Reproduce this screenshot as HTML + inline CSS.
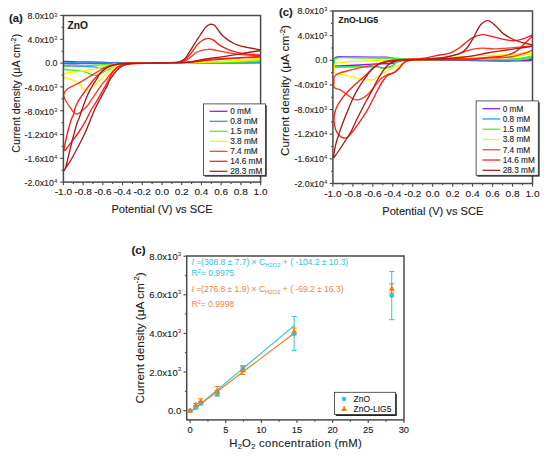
<!DOCTYPE html>
<html><head><meta charset="utf-8"><style>
html,body{margin:0;padding:0;background:#fff;width:550px;height:459px;overflow:hidden;position:relative}
svg text{font-family:'Liberation Sans',sans-serif}
</style></head><body>
<svg width="550" height="459" viewBox="0 0 550 459" style="position:absolute;left:0;top:0;font-family:'Liberation Sans',sans-serif">
<rect width="550" height="459" fill="#ffffff"/>
<clipPath id="ca"><rect x="63.4" y="15.5" width="197.2" height="166.6"/></clipPath>
<g clip-path="url(#ca)">
<path d="M260.6 62.9 C253.83 62.92 238.43 63 220 63 C201.57 63 167.5 62.95 150 62.9 C132.5 62.85 123.33 62.82 115 62.7 C106.67 62.58 105.83 62.35 100 62.2 C94.17 62.05 85.92 61.93 80 61.8 C74.08 61.67 67.2 61.3 64.5 61.4 C61.8 61.5 63.8 62.03 63.8 62.4 C63.8 62.77 61.8 63.38 64.5 63.6 C67.2 63.82 72.42 63.75 80 63.7 C87.58 63.65 98.33 63.42 110 63.3 C121.67 63.18 131.67 63.05 150 63 C168.33 62.95 201.57 63.05 220 63 C238.43 62.95 253.83 62.75 260.6 62.7" fill="none" stroke="#8a18f0" stroke-width="1.35" stroke-linejoin="round" stroke-linecap="round"/>
<path d="M260.6 62 C255.5 62.1 243.43 62.43 230 62.6 C216.57 62.77 198.33 62.95 180 63 C161.67 63.05 135 62.92 120 62.9 C105 62.88 99.25 62.92 90 62.9 C80.75 62.88 68.87 62.58 64.5 62.8 C60.13 63.02 63.8 63.75 63.8 64.2 C63.8 64.65 61.8 65.13 64.5 65.5 C67.2 65.87 75.15 66.18 80 66.4 C84.85 66.62 90.12 66.53 93.6 66.8 C97.08 67.07 98.92 67.92 100.9 68 C102.88 68.08 103.68 67.8 105.5 67.3 C107.32 66.8 109.68 65.62 111.8 65 C113.92 64.38 115.17 63.92 118.2 63.6 C121.23 63.28 119.7 63.18 130 63.1 C140.3 63.02 163.33 63.13 180 63.1 C196.67 63.07 216.57 63.02 230 62.9 C243.43 62.78 255.5 62.48 260.6 62.4" fill="none" stroke="#1a9cf2" stroke-width="1.35" stroke-linejoin="round" stroke-linecap="round"/>
<path d="M260.6 60.4 C255.5 60.67 243.43 61.57 230 62 C216.57 62.43 196.67 62.8 180 63 C163.33 63.2 141.67 62.97 130 63.2 C118.33 63.43 116.67 64.03 110 64.4 C103.33 64.77 97.58 65.1 90 65.4 C82.42 65.7 68.87 65.8 64.5 66.2 C60.13 66.6 63.8 67.25 63.8 67.8 C63.8 68.35 62.38 69.07 64.5 69.5 C66.62 69.93 73 69.97 76.5 70.4 C80 70.83 82.95 71.37 85.5 72.1 C88.05 72.83 89.98 74.27 91.8 74.8 C93.62 75.33 94.88 75.5 96.4 75.3 C97.92 75.1 99.08 74.48 100.9 73.6 C102.72 72.72 105.03 71.2 107.3 70 C109.57 68.8 112.08 67.38 114.5 66.4 C116.92 65.42 118.38 64.63 121.8 64.1 C125.22 63.57 125.3 63.37 135 63.2 C144.7 63.03 164.17 63.22 180 63.1 C195.83 62.98 216.57 62.78 230 62.5 C243.43 62.22 255.5 61.58 260.6 61.4" fill="none" stroke="#4cf01c" stroke-width="1.35" stroke-linejoin="round" stroke-linecap="round"/>
<path d="M260.6 58.2 C255.5 58.67 243.43 60.22 230 61 C216.57 61.78 195.83 62.53 180 62.9 C164.17 63.27 145.5 63.02 135 63.2 C124.5 63.38 122.5 63.4 117 64 C111.5 64.6 105.57 66 102 66.8 C98.43 67.6 97.72 68.27 95.6 68.8 C93.48 69.33 91.87 69.57 89.3 70 C86.73 70.43 82.93 71.03 80.2 71.4 C77.47 71.77 75.52 71.83 72.9 72.2 C70.28 72.57 66.02 73.03 64.5 73.6 C62.98 74.17 63.8 74.93 63.8 75.6 C63.8 76.27 62.98 76.9 64.5 77.6 C66.02 78.3 70.58 78.88 72.9 79.8 C75.22 80.72 76.88 81.82 78.4 83.1 C79.92 84.38 80.9 86.43 82 87.5 C83.1 88.57 83.82 89.18 85 89.5 C86.18 89.82 87.52 90.07 89.1 89.4 C90.68 88.73 92.53 87.22 94.5 85.5 C96.47 83.78 98.77 81.23 100.9 79.1 C103.03 76.97 105.33 74.52 107.3 72.7 C109.27 70.88 110.88 69.4 112.7 68.2 C114.52 67 116.38 66.18 118.2 65.5 C120.02 64.82 119.97 64.48 123.6 64.1 C127.23 63.72 130.6 63.38 140 63.2 C149.4 63.02 165 63.32 180 63 C195 62.68 216.57 61.9 230 61.3 C243.43 60.7 255.5 59.72 260.6 59.4" fill="none" stroke="#fff000" stroke-width="1.35" stroke-linejoin="round" stroke-linecap="round"/>
<path d="M260.6 55.6 C258.47 55.5 252.57 55.38 247.8 55 C243.03 54.62 236.43 53.9 232 53.3 C227.57 52.7 225.17 52.07 221.2 51.4 C217.23 50.73 212.22 49.2 208.2 49.3 C204.18 49.4 200.3 50.47 197.1 52 C193.9 53.53 191.85 56.78 189 58.5 C186.15 60.22 184.83 61.55 180 62.3 C175.17 63.05 168.33 62.87 160 63 C151.67 63.13 136.82 63 130 63.1 C123.18 63.2 122.13 63.28 119.1 63.6 C116.07 63.92 114.07 64.38 111.8 65 C109.53 65.62 107.77 66.23 105.5 67.3 C103.23 68.37 100.93 69.82 98.2 71.4 C95.47 72.98 92.13 74.98 89.1 76.8 C86.07 78.62 82.85 80.72 80 82.3 C77.15 83.88 74.25 85.05 72 86.3 C69.75 87.55 67.87 88.45 66.5 89.8 C65.13 91.15 64.13 93.03 63.8 94.4 C63.47 95.77 64.05 96.73 64.5 98 C64.95 99.27 65.43 100.25 66.5 102 C67.57 103.75 69.62 106.68 70.9 108.5 C72.18 110.32 73.2 111.98 74.2 112.9 C75.2 113.82 75.78 114.2 76.9 114 C78.02 113.8 79.15 113.08 80.9 111.7 C82.65 110.32 85.63 107.72 87.4 105.7 C89.17 103.68 89.72 102.25 91.5 99.6 C93.28 96.95 96.25 92.52 98.1 89.8 C99.95 87.08 101.3 84.93 102.6 83.3 C103.9 81.67 104.67 81.47 105.9 80 C107.13 78.53 108.48 76.33 110 74.5 C111.52 72.67 113.17 70.53 115 69 C116.83 67.47 118.83 66.17 121 65.3 C123.17 64.43 123.17 64.17 128 63.8 C132.83 63.43 140.5 63.33 150 63.1 C159.5 62.87 175 63.03 185 62.4 C195 61.77 200.83 60.03 210 59.3 C219.17 58.57 231.57 58.35 240 58 C248.43 57.65 257.17 57.33 260.6 57.2" fill="none" stroke="#ff3c1c" stroke-width="1.35" stroke-linejoin="round" stroke-linecap="round"/>
<path d="M260.6 55 C258.47 54.85 251.5 54.48 247.8 54.1 C244.1 53.72 241.55 53.42 238.4 52.7 C235.25 51.98 232.05 51.07 228.9 49.8 C225.75 48.53 222.07 46.7 219.5 45.1 C216.93 43.5 215.38 41.32 213.5 40.2 C211.62 39.08 209.95 38.43 208.2 38.4 C206.45 38.37 204.85 38.92 203 40 C201.15 41.08 199.27 42.48 197.1 44.9 C194.93 47.32 192.52 51.73 190 54.5 C187.48 57.27 186.17 60.1 182 61.5 C177.83 62.9 172.83 62.63 165 62.9 C157.17 63.17 142.35 62.98 135 63.1 C127.65 63.22 124.47 63.28 120.9 63.6 C117.33 63.92 115.87 64.38 113.6 65 C111.33 65.62 109.27 66.17 107.3 67.3 C105.33 68.43 103.55 70.3 101.8 71.8 C100.05 73.3 98.18 74.93 96.8 76.3 C95.42 77.67 94.55 78.75 93.5 80 C92.45 81.25 91.48 82.53 90.5 83.8 C89.52 85.07 88.62 86.2 87.6 87.6 C86.58 89 85.48 90.67 84.4 92.2 C83.32 93.73 82.2 95.17 81.1 96.8 C80 98.43 78.78 100.15 77.8 102 C76.82 103.85 75.95 105.73 75.2 107.9 C74.45 110.07 73.92 113.15 73.3 115 C72.68 116.85 72.08 117.45 71.5 119 C70.92 120.55 70.35 122.47 69.8 124.3 C69.25 126.13 68.75 127.83 68.2 130 C67.65 132.17 67.03 134.97 66.5 137.3 C65.97 139.63 65.42 141.88 65 144 C64.58 146.12 63.82 149.13 64 150 C64.18 150.87 64.85 150.57 66.1 149.2 C67.35 147.83 69.48 144.5 71.5 141.8 C73.52 139.1 75.95 136.27 78.2 133 C80.45 129.73 82.85 126.03 85 122.2 C87.15 118.37 89.13 113.55 91.1 110 C93.07 106.45 95.1 103.72 96.8 100.9 C98.5 98.08 99.78 95.72 101.3 93.1 C102.82 90.48 104.7 87.38 105.9 85.2 C107.1 83.02 107.22 82.37 108.5 80 C109.78 77.63 111.83 73.27 113.6 71 C115.37 68.73 117.28 67.5 119.1 66.4 C120.92 65.3 122.52 64.9 124.5 64.4 C126.48 63.9 126.75 63.62 131 63.4 C135.25 63.18 141 63.27 150 63.1 C159 62.93 175 62.88 185 62.4 C195 61.92 201.67 60.9 210 60.2 C218.33 59.5 226.57 58.87 235 58.2 C243.43 57.53 256.33 56.53 260.6 56.2" fill="none" stroke="#ff1a1a" stroke-width="1.35" stroke-linejoin="round" stroke-linecap="round"/>
<path d="M260.6 49.9 C259.33 49.67 255.28 48.93 253 48.5 C250.72 48.07 248.73 47.67 246.9 47.3 C245.07 46.93 243.58 46.7 242 46.3 C240.42 45.9 238.9 45.45 237.4 44.9 C235.9 44.35 234.4 43.72 233 43 C231.6 42.28 230.33 41.5 229 40.6 C227.67 39.7 226.17 38.53 225 37.6 C223.83 36.67 223 36.07 222 35 C221 33.93 219.95 32.47 219 31.2 C218.05 29.93 217.05 28.38 216.3 27.4 C215.55 26.42 215.27 25.82 214.5 25.3 C213.73 24.78 212.7 24.35 211.7 24.3 C210.7 24.25 209.55 24.45 208.5 25 C207.45 25.55 206.32 26.63 205.4 27.6 C204.48 28.57 203.9 29.48 203 30.8 C202.1 32.12 201.17 33.72 200 35.5 C198.83 37.28 197.33 39.45 196 41.5 C194.67 43.55 193.33 45.68 192 47.8 C190.67 49.92 189.32 52.3 188 54.2 C186.68 56.1 186.1 57.8 184.1 59.2 C182.1 60.6 181.68 61.97 176 62.6 C170.32 63.23 157.67 62.9 150 63 C142.33 63.1 135.3 63.02 130 63.2 C124.7 63.38 121.38 63.65 118.2 64.1 C115.02 64.55 113.18 65.07 110.9 65.9 C108.62 66.73 106.32 67.82 104.5 69.1 C102.68 70.38 101.4 71.78 100 73.6 C98.6 75.42 97.28 78.1 96.1 80 C94.92 81.9 93.98 83.18 92.9 85 C91.82 86.82 90.7 88.72 89.6 90.9 C88.5 93.08 87.38 95.48 86.3 98.1 C85.22 100.72 83.95 104.28 83.1 106.6 C82.25 108.92 81.85 110.1 81.2 112 C80.55 113.9 79.92 116.08 79.2 118 C78.48 119.92 77.63 121.33 76.9 123.5 C76.17 125.67 75.48 128.52 74.8 131 C74.12 133.48 73.47 135.82 72.8 138.4 C72.13 140.98 71.47 143.78 70.8 146.5 C70.13 149.22 69.7 151.08 68.8 154.7 C67.9 158.32 66.2 165.62 65.4 168.2 C64.6 170.78 63.22 171.33 64 170.2 C64.78 169.07 67.73 165.35 70.1 161.4 C72.47 157.45 75.72 151.23 78.2 146.5 C80.68 141.77 82.28 139.08 85 133 C87.72 126.92 92.22 115.23 94.5 110 C96.78 104.77 97.23 104.42 98.7 101.6 C100.17 98.78 101.88 95.72 103.3 93.1 C104.72 90.48 106.12 88.08 107.2 85.9 C108.28 83.72 108.75 81.9 109.8 80 C110.85 78.1 112.1 76.32 113.5 74.5 C114.9 72.68 116.52 70.6 118.2 69.1 C119.88 67.6 121.78 66.33 123.6 65.5 C125.42 64.67 127.2 64.47 129.1 64.1 C131 63.73 131.52 63.47 135 63.3 C138.48 63.13 141.2 63.27 150 63.1 C158.8 62.93 179.02 62.9 187.8 62.3 C196.58 61.7 198.05 60.27 202.7 59.5 C207.35 58.73 210.45 58.47 215.7 57.7 C220.95 56.93 228.85 55.77 234.2 54.9 C239.55 54.03 243.4 53.22 247.8 52.5 C252.2 51.78 258.47 50.92 260.6 50.6" fill="none" stroke="#a81c1c" stroke-width="1.35" stroke-linejoin="round" stroke-linecap="round"/>
</g>
<rect x="63.4" y="15.5" width="197.2" height="166.6" fill="none" stroke="#4a4a4a" stroke-width="1.5"/>
<line x1="63.4" y1="182.1" x2="63.4" y2="185.3" stroke="#4a4a4a" stroke-width="1.1"/>
<line x1="73.26" y1="182.1" x2="73.26" y2="183.9" stroke="#4a4a4a" stroke-width="1.1"/>
<line x1="83.12" y1="182.1" x2="83.12" y2="185.3" stroke="#4a4a4a" stroke-width="1.1"/>
<line x1="92.98" y1="182.1" x2="92.98" y2="183.9" stroke="#4a4a4a" stroke-width="1.1"/>
<line x1="102.84" y1="182.1" x2="102.84" y2="185.3" stroke="#4a4a4a" stroke-width="1.1"/>
<line x1="112.7" y1="182.1" x2="112.7" y2="183.9" stroke="#4a4a4a" stroke-width="1.1"/>
<line x1="122.56" y1="182.1" x2="122.56" y2="185.3" stroke="#4a4a4a" stroke-width="1.1"/>
<line x1="132.42" y1="182.1" x2="132.42" y2="183.9" stroke="#4a4a4a" stroke-width="1.1"/>
<line x1="142.28" y1="182.1" x2="142.28" y2="185.3" stroke="#4a4a4a" stroke-width="1.1"/>
<line x1="152.14" y1="182.1" x2="152.14" y2="183.9" stroke="#4a4a4a" stroke-width="1.1"/>
<line x1="162" y1="182.1" x2="162" y2="185.3" stroke="#4a4a4a" stroke-width="1.1"/>
<line x1="171.86" y1="182.1" x2="171.86" y2="183.9" stroke="#4a4a4a" stroke-width="1.1"/>
<line x1="181.72" y1="182.1" x2="181.72" y2="185.3" stroke="#4a4a4a" stroke-width="1.1"/>
<line x1="191.58" y1="182.1" x2="191.58" y2="183.9" stroke="#4a4a4a" stroke-width="1.1"/>
<line x1="201.44" y1="182.1" x2="201.44" y2="185.3" stroke="#4a4a4a" stroke-width="1.1"/>
<line x1="211.3" y1="182.1" x2="211.3" y2="183.9" stroke="#4a4a4a" stroke-width="1.1"/>
<line x1="221.16" y1="182.1" x2="221.16" y2="185.3" stroke="#4a4a4a" stroke-width="1.1"/>
<line x1="231.02" y1="182.1" x2="231.02" y2="183.9" stroke="#4a4a4a" stroke-width="1.1"/>
<line x1="240.88" y1="182.1" x2="240.88" y2="185.3" stroke="#4a4a4a" stroke-width="1.1"/>
<line x1="250.74" y1="182.1" x2="250.74" y2="183.9" stroke="#4a4a4a" stroke-width="1.1"/>
<line x1="260.6" y1="182.1" x2="260.6" y2="185.3" stroke="#4a4a4a" stroke-width="1.1"/>
<text transform="translate(63.4 195.2) scale(1.12 1)" font-size="9" text-anchor="middle" font-weight="normal" fill="#1c1c1c"  stroke="#1c1c1c" stroke-width="0.12">-1.0</text>
<text transform="translate(83.12 195.2) scale(1.12 1)" font-size="9" text-anchor="middle" font-weight="normal" fill="#1c1c1c"  stroke="#1c1c1c" stroke-width="0.12">-0.8</text>
<text transform="translate(102.84 195.2) scale(1.12 1)" font-size="9" text-anchor="middle" font-weight="normal" fill="#1c1c1c"  stroke="#1c1c1c" stroke-width="0.12">-0.6</text>
<text transform="translate(122.56 195.2) scale(1.12 1)" font-size="9" text-anchor="middle" font-weight="normal" fill="#1c1c1c"  stroke="#1c1c1c" stroke-width="0.12">-0.4</text>
<text transform="translate(142.28 195.2) scale(1.12 1)" font-size="9" text-anchor="middle" font-weight="normal" fill="#1c1c1c"  stroke="#1c1c1c" stroke-width="0.12">-0.2</text>
<text transform="translate(162 195.2) scale(1.12 1)" font-size="9" text-anchor="middle" font-weight="normal" fill="#1c1c1c"  stroke="#1c1c1c" stroke-width="0.12">0.0</text>
<text transform="translate(181.72 195.2) scale(1.12 1)" font-size="9" text-anchor="middle" font-weight="normal" fill="#1c1c1c"  stroke="#1c1c1c" stroke-width="0.12">0.2</text>
<text transform="translate(201.44 195.2) scale(1.12 1)" font-size="9" text-anchor="middle" font-weight="normal" fill="#1c1c1c"  stroke="#1c1c1c" stroke-width="0.12">0.4</text>
<text transform="translate(221.16 195.2) scale(1.12 1)" font-size="9" text-anchor="middle" font-weight="normal" fill="#1c1c1c"  stroke="#1c1c1c" stroke-width="0.12">0.6</text>
<text transform="translate(240.88 195.2) scale(1.12 1)" font-size="9" text-anchor="middle" font-weight="normal" fill="#1c1c1c"  stroke="#1c1c1c" stroke-width="0.12">0.8</text>
<text transform="translate(260.6 195.2) scale(1.12 1)" font-size="9" text-anchor="middle" font-weight="normal" fill="#1c1c1c"  stroke="#1c1c1c" stroke-width="0.12">1.0</text>
<line x1="60.2" y1="182.1" x2="63.4" y2="182.1" stroke="#4a4a4a" stroke-width="1.1"/>
<line x1="61.6" y1="170.2" x2="63.4" y2="170.2" stroke="#4a4a4a" stroke-width="1.1"/>
<line x1="60.2" y1="158.3" x2="63.4" y2="158.3" stroke="#4a4a4a" stroke-width="1.1"/>
<line x1="61.6" y1="146.4" x2="63.4" y2="146.4" stroke="#4a4a4a" stroke-width="1.1"/>
<line x1="60.2" y1="134.5" x2="63.4" y2="134.5" stroke="#4a4a4a" stroke-width="1.1"/>
<line x1="61.6" y1="122.6" x2="63.4" y2="122.6" stroke="#4a4a4a" stroke-width="1.1"/>
<line x1="60.2" y1="110.7" x2="63.4" y2="110.7" stroke="#4a4a4a" stroke-width="1.1"/>
<line x1="61.6" y1="98.8" x2="63.4" y2="98.8" stroke="#4a4a4a" stroke-width="1.1"/>
<line x1="60.2" y1="86.9" x2="63.4" y2="86.9" stroke="#4a4a4a" stroke-width="1.1"/>
<line x1="61.6" y1="75" x2="63.4" y2="75" stroke="#4a4a4a" stroke-width="1.1"/>
<line x1="60.2" y1="63.1" x2="63.4" y2="63.1" stroke="#4a4a4a" stroke-width="1.1"/>
<line x1="61.6" y1="51.2" x2="63.4" y2="51.2" stroke="#4a4a4a" stroke-width="1.1"/>
<line x1="60.2" y1="39.3" x2="63.4" y2="39.3" stroke="#4a4a4a" stroke-width="1.1"/>
<line x1="61.6" y1="27.4" x2="63.4" y2="27.4" stroke="#4a4a4a" stroke-width="1.1"/>
<line x1="60.2" y1="15.5" x2="63.4" y2="15.5" stroke="#4a4a4a" stroke-width="1.1"/>
<text x="53.9" y="19.4" font-size="8.8" text-anchor="end" font-weight="normal" fill="#1c1c1c"  stroke="#1c1c1c" stroke-width="0.12">8.0x10</text>
<text x="54.1" y="16.6" font-size="5.98" text-anchor="start" font-weight="normal" fill="#1c1c1c"  stroke="#1c1c1c" stroke-width="0">3</text>
<text x="53.9" y="43.2" font-size="8.8" text-anchor="end" font-weight="normal" fill="#1c1c1c"  stroke="#1c1c1c" stroke-width="0.12">4.0x10</text>
<text x="54.1" y="40.4" font-size="5.98" text-anchor="start" font-weight="normal" fill="#1c1c1c"  stroke="#1c1c1c" stroke-width="0">3</text>
<text x="57.5" y="66.2" font-size="8.8" text-anchor="end" font-weight="normal" fill="#1c1c1c"  stroke="#1c1c1c" stroke-width="0.12">0.0</text>
<text x="53.9" y="90.8" font-size="8.8" text-anchor="end" font-weight="normal" fill="#1c1c1c"  stroke="#1c1c1c" stroke-width="0.12">-4.0x10</text>
<text x="54.1" y="88" font-size="5.98" text-anchor="start" font-weight="normal" fill="#1c1c1c"  stroke="#1c1c1c" stroke-width="0">3</text>
<text x="53.9" y="114.6" font-size="8.8" text-anchor="end" font-weight="normal" fill="#1c1c1c"  stroke="#1c1c1c" stroke-width="0.12">-8.0x10</text>
<text x="54.1" y="111.8" font-size="5.98" text-anchor="start" font-weight="normal" fill="#1c1c1c"  stroke="#1c1c1c" stroke-width="0">3</text>
<text x="53.9" y="138.4" font-size="8.8" text-anchor="end" font-weight="normal" fill="#1c1c1c"  stroke="#1c1c1c" stroke-width="0.12">-1.2x10</text>
<text x="54.1" y="135.6" font-size="5.98" text-anchor="start" font-weight="normal" fill="#1c1c1c"  stroke="#1c1c1c" stroke-width="0">4</text>
<text x="53.9" y="162.2" font-size="8.8" text-anchor="end" font-weight="normal" fill="#1c1c1c"  stroke="#1c1c1c" stroke-width="0.12">-1.6x10</text>
<text x="54.1" y="159.4" font-size="5.98" text-anchor="start" font-weight="normal" fill="#1c1c1c"  stroke="#1c1c1c" stroke-width="0">4</text>
<text x="53.9" y="186" font-size="8.8" text-anchor="end" font-weight="normal" fill="#1c1c1c"  stroke="#1c1c1c" stroke-width="0.12">-2.0x10</text>
<text x="54.1" y="183.2" font-size="5.98" text-anchor="start" font-weight="normal" fill="#1c1c1c"  stroke="#1c1c1c" stroke-width="0">4</text>
<text x="162" y="212.8" font-size="11.1" text-anchor="middle" font-weight="normal" fill="#1c1c1c"  stroke="#1c1c1c" stroke-width="0.12">Potential (V) vs SCE</text>
<text transform="translate(20.2,93.4) rotate(-90)" font-size="10.7" text-anchor="middle" fill="#1c1c1c" stroke="#1c1c1c" stroke-width="0.12">Current density (μA cm<tspan dy="-3.8" font-size="7">-2</tspan><tspan dy="3.8">)</tspan></text>
<text x="9" y="21.9" font-size="11.3" text-anchor="start" font-weight="bold" fill="#1c1c1c"  stroke="#1c1c1c" stroke-width="0.12">(a)</text>
<text x="67.5" y="28.5" font-size="10.2" text-anchor="start" font-weight="bold" fill="#1c1c1c"  stroke="#1c1c1c" stroke-width="0.12">ZnO</text>
<rect x="204.7" y="105.2" width="62" height="71.4" fill="#222" />
<rect x="203.4" y="103.9" width="62" height="71.4" fill="#fff" stroke="#333" stroke-width="0.8"/>
<line x1="209.6" y1="111.3" x2="227.4" y2="111.3" stroke="#8a18f0" stroke-width="1.25"/>
<text x="230.2" y="114.2" font-size="8.25" text-anchor="start" font-weight="normal" fill="#1c1c1c"  stroke="#1c1c1c" stroke-width="0.12">0 mM</text>
<line x1="209.6" y1="121.3" x2="227.4" y2="121.3" stroke="#1a9cf2" stroke-width="1.25"/>
<text x="230.2" y="124.2" font-size="8.25" text-anchor="start" font-weight="normal" fill="#1c1c1c"  stroke="#1c1c1c" stroke-width="0.12">0.8 mM</text>
<line x1="209.6" y1="131.3" x2="227.4" y2="131.3" stroke="#4cf01c" stroke-width="1.25"/>
<text x="230.2" y="134.2" font-size="8.25" text-anchor="start" font-weight="normal" fill="#1c1c1c"  stroke="#1c1c1c" stroke-width="0.12">1.5 mM</text>
<line x1="209.6" y1="141.3" x2="227.4" y2="141.3" stroke="#fff000" stroke-width="1.25"/>
<text x="230.2" y="144.2" font-size="8.25" text-anchor="start" font-weight="normal" fill="#1c1c1c"  stroke="#1c1c1c" stroke-width="0.12">3.8 mM</text>
<line x1="209.6" y1="151.3" x2="227.4" y2="151.3" stroke="#ff3c1c" stroke-width="1.25"/>
<text x="230.2" y="154.2" font-size="8.25" text-anchor="start" font-weight="normal" fill="#1c1c1c"  stroke="#1c1c1c" stroke-width="0.12">7.4 mM</text>
<line x1="209.6" y1="161.3" x2="227.4" y2="161.3" stroke="#ff1a1a" stroke-width="1.25"/>
<text x="230.2" y="164.2" font-size="8.25" text-anchor="start" font-weight="normal" fill="#1c1c1c"  stroke="#1c1c1c" stroke-width="0.12">14.6 mM</text>
<line x1="209.6" y1="171.3" x2="227.4" y2="171.3" stroke="#a81c1c" stroke-width="1.25"/>
<text x="230.2" y="174.2" font-size="8.25" text-anchor="start" font-weight="normal" fill="#1c1c1c"  stroke="#1c1c1c" stroke-width="0.12">28.3 mM</text>
<clipPath id="cb"><rect x="332.9" y="11" width="199.6" height="172.5"/></clipPath>
<g clip-path="url(#cb)">
<path d="M532.5 58.4 C531.25 58.73 530.42 59.97 525 60.4 C519.58 60.83 512.5 61.05 500 61 C487.5 60.95 466.67 60.42 450 60.1 C433.33 59.78 410.83 59.58 400 59.1 C389.17 58.62 394.17 57.58 385 57.2 C375.83 56.82 353 56.83 345 56.8 C337 56.77 338.8 56.67 337 57 C335.2 57.33 334.65 57.72 334.2 58.8 C333.75 59.88 334.07 62.32 334.3 63.5 C334.53 64.68 331.47 65.65 335.6 65.9 C339.73 66.15 352.35 65.33 359.1 65 C365.85 64.67 370.45 64.18 376.1 63.9 C381.75 63.62 388.57 63.87 393 63.3 C397.43 62.73 398.2 61.03 402.7 60.5 C407.2 59.97 407.12 60.17 420 60.1 C432.88 60.03 462.5 59.98 480 60.1 C497.5 60.22 516.25 60.9 525 60.8 C533.75 60.7 531.25 59.72 532.5 59.5" fill="none" stroke="#8a18f0" stroke-width="1.35" stroke-linejoin="round" stroke-linecap="round"/>
<path d="M532.5 56.5 C530.42 56.85 525.42 58.08 520 58.6 C514.58 59.12 511.67 59.47 500 59.6 C488.33 59.73 465 59.48 450 59.4 C435 59.32 420.83 59.37 410 59.1 C399.17 58.83 395.83 58.1 385 57.8 C374.17 57.5 352.83 57.35 345 57.3 C337.17 57.25 339.8 57.15 338 57.5 C336.2 57.85 334.82 58.28 334.2 59.4 C333.58 60.52 334.07 63 334.3 64.2 C334.53 65.4 331.47 66.22 335.6 66.6 C339.73 66.98 352.35 66.48 359.1 66.5 C365.85 66.52 372.17 66.48 376.1 66.7 C380.03 66.92 380.72 67.72 382.7 67.8 C384.68 67.88 386.28 67.58 388 67.2 C389.72 66.82 391.45 66.52 393 65.5 C394.55 64.48 395.07 62.1 397.3 61.1 C399.53 60.1 400.95 59.73 406.4 59.5 C411.85 59.27 417.73 59.67 430 59.7 C442.27 59.73 465 59.68 480 59.7 C495 59.72 511.25 60.15 520 59.8 C528.75 59.45 530.42 57.97 532.5 57.6" fill="none" stroke="#1a9cf2" stroke-width="1.35" stroke-linejoin="round" stroke-linecap="round"/>
<path d="M532.5 55.7 C530.42 56.17 525.42 57.87 520 58.5 C514.58 59.13 511.67 59.37 500 59.5 C488.33 59.63 465 59.37 450 59.3 C435 59.23 420.83 59.32 410 59.1 C399.17 58.88 395.83 58.25 385 58 C374.17 57.75 352.83 57.63 345 57.6 C337.17 57.57 339.8 57.47 338 57.8 C336.2 58.13 334.82 58.48 334.2 59.6 C333.58 60.72 334.07 63.27 334.3 64.5 C334.53 65.73 331.47 66.62 335.6 67 C339.73 67.38 352.35 66.77 359.1 66.8 C365.85 66.83 372.17 66.92 376.1 67.2 C380.03 67.48 380.72 68.4 382.7 68.5 C384.68 68.6 386.28 68.22 388 67.8 C389.72 67.38 391.45 67.07 393 66 C394.55 64.93 395.07 62.47 397.3 61.4 C399.53 60.33 400.95 59.88 406.4 59.6 C411.85 59.32 417.73 59.7 430 59.7 C442.27 59.7 465 59.63 480 59.6 C495 59.57 511.25 59.93 520 59.5 C528.75 59.07 530.42 57.42 532.5 57" fill="none" stroke="#4cf01c" stroke-width="1.35" stroke-linejoin="round" stroke-linecap="round"/>
<path d="M532.5 51.6 C529.58 52 520.25 53.43 515 54 C509.75 54.57 508.5 54.65 501 55 C493.5 55.35 480.17 55.58 470 56.1 C459.83 56.62 450 57.6 440 58.1 C430 58.6 418.33 58.75 410 59.1 C401.67 59.45 396.3 59.93 390 60.2 C383.7 60.47 379.53 60.4 372.2 60.7 C364.87 61 352.1 61.57 346 62 C339.9 62.43 337.55 62.72 335.6 63.3 C333.65 63.88 334.53 64.55 334.3 65.5 C334.07 66.45 334.2 67.73 334.2 69 C334.2 70.27 333.2 72.2 334.3 73.1 C335.4 74 337.75 73.75 340.8 74.4 C343.85 75.05 348.88 76.13 352.6 77 C356.32 77.87 359.62 79.17 363.1 79.6 C366.58 80.03 370.88 80.25 373.5 79.6 C376.12 78.95 376.83 77 378.8 75.7 C380.77 74.4 382.93 73.12 385.3 71.8 C387.67 70.48 390.4 69.02 393 67.8 C395.6 66.58 398.07 65.72 400.9 64.5 C403.73 63.28 405.15 61.3 410 60.5 C414.85 59.7 420 60.02 430 59.7 C440 59.38 456.67 59.05 470 58.6 C483.33 58.15 499.58 57.85 510 57 C520.42 56.15 528.75 54.08 532.5 53.5" fill="none" stroke="#fff000" stroke-width="1.35" stroke-linejoin="round" stroke-linecap="round"/>
<path d="M532.5 46 C530.65 46.13 525.53 46.43 521.4 46.8 C517.27 47.17 512.25 47.85 507.7 48.2 C503.15 48.55 498.42 48.9 494.1 48.9 C489.78 48.9 485.67 48.08 481.8 48.2 C477.93 48.32 474.53 48.73 470.9 49.6 C467.27 50.47 464.32 52.12 460 53.4 C455.68 54.68 451.67 56.35 445 57.3 C438.33 58.25 426.67 58.7 420 59.1 C413.33 59.5 409.5 59.33 405 59.7 C400.5 60.07 396.72 60.82 393 61.3 C389.28 61.78 387.25 61.73 382.7 62.6 C378.15 63.47 371.37 65.18 365.7 66.5 C360.03 67.82 353.28 69.3 348.7 70.5 C344.12 71.7 340.6 72.62 338.2 73.7 C335.8 74.78 335 75.62 334.3 77 C333.6 78.38 334 80.25 334 82 C334 83.75 333.17 86.15 334.3 87.5 C335.43 88.85 338.83 89.02 340.8 90.1 C342.77 91.18 344.13 92.58 346.1 94 C348.07 95.42 350.87 97.62 352.6 98.6 C354.33 99.58 354.97 99.9 356.5 99.9 C358.03 99.9 359.83 99.58 361.8 98.6 C363.77 97.62 366.13 96.08 368.3 94 C370.47 91.92 372.62 88.72 374.8 86.1 C376.98 83.48 379.22 80.25 381.4 78.3 C383.58 76.35 385.97 75.27 387.9 74.4 C389.83 73.53 391.32 74 393 73.1 C394.68 72.2 396.17 70.75 398 69 C399.83 67.25 401.67 64.08 404 62.6 C406.33 61.12 406 60.68 412 60.1 C418 59.52 428.67 59.43 440 59.1 C451.33 58.77 468.33 58.45 480 58.1 C491.67 57.75 502.5 57.85 510 57 C517.5 56.15 521.25 54.17 525 53 C528.75 51.83 531.25 50.5 532.5 50" fill="none" stroke="#ff3c1c" stroke-width="1.35" stroke-linejoin="round" stroke-linecap="round"/>
<path d="M532.5 35 C531.1 35.6 527.08 37.65 524.1 38.6 C521.12 39.55 518 40.58 514.6 40.7 C511.2 40.82 507.35 39.98 503.7 39.3 C500.05 38.62 496.35 37.38 492.7 36.6 C489.05 35.82 485.43 34.27 481.8 34.6 C478.17 34.93 474.53 36.45 470.9 38.6 C467.27 40.75 463.4 45.13 460 47.5 C456.6 49.87 454.43 51.45 450.5 52.8 C446.57 54.15 441.1 54.67 436.4 55.6 C431.7 56.53 427.53 57.77 422.3 58.4 C417.07 59.03 409.55 59.15 405 59.4 C400.45 59.65 397.85 59.63 395 59.9 C392.15 60.17 389.67 60.67 387.9 61 C386.13 61.33 385.92 61.32 384.4 61.9 C382.88 62.48 380.43 63.68 378.8 64.5 C377.17 65.32 376.13 65.67 374.6 66.8 C373.07 67.93 371.23 69.75 369.6 71.3 C367.97 72.85 366.55 74.48 364.8 76.1 C363.05 77.72 360.77 79.55 359.1 81 C357.43 82.45 356.23 83.47 354.8 84.8 C353.37 86.13 351.95 87.55 350.5 89 C349.05 90.45 347.35 92.13 346.1 93.5 C344.85 94.87 344.02 95.88 343 97.2 C341.98 98.52 340.92 100.02 340 101.4 C339.08 102.78 338.23 104.07 337.5 105.5 C336.77 106.93 336.12 108.5 335.6 110 C335.08 111.5 334.67 112.63 334.4 114.5 C334.13 116.37 333.78 118.67 334 121.2 C334.22 123.73 334.83 127.33 335.7 129.7 C336.57 132.07 337.9 134.02 339.2 135.4 C340.5 136.78 342.03 137.73 343.5 138 C344.97 138.27 346.75 137.73 348 137 C349.25 136.27 350 134.8 351 133.6 C352 132.4 353 131.12 354 129.8 C355 128.48 356 127.1 357 125.7 C358 124.3 359 122.85 360 121.4 C361 119.95 362 118.5 363 117 C364 115.5 364.95 114.15 366 112.4 C367.05 110.65 368.2 108.57 369.3 106.5 C370.4 104.43 371.23 102.7 372.6 100 C373.97 97.3 375.85 93.38 377.5 90.3 C379.15 87.22 380.85 83.95 382.5 81.5 C384.15 79.05 385.77 77 387.4 75.6 C389.03 74.2 391.03 73.67 392.3 73.1 C393.57 72.53 393.88 72.97 395 72.2 C396.12 71.43 397.42 70.15 399 68.5 C400.58 66.85 402.37 63.78 404.5 62.3 C406.63 60.82 405.88 60.03 411.8 59.6 C417.72 59.17 430.3 59.7 440 59.7 C449.7 59.7 462.12 59.97 470 59.6 C477.88 59.23 482.15 58.03 487.3 57.5 C492.45 56.97 496.82 57.03 500.9 56.4 C504.98 55.77 508.85 54.85 511.8 53.7 C514.75 52.55 516.32 51.33 518.6 49.5 C520.88 47.67 523.18 44.95 525.5 42.7 C527.82 40.45 531.33 37.12 532.5 36" fill="none" stroke="#ff1a1a" stroke-width="1.35" stroke-linejoin="round" stroke-linecap="round"/>
<path d="M532.5 44.9 C530.88 44.53 525.78 43.52 522.8 42.7 C519.82 41.88 517.78 41.47 514.6 40 C511.42 38.53 506.88 36.28 503.7 33.9 C500.52 31.52 498.12 27.92 495.5 25.7 C492.88 23.48 490.5 20.72 488 20.6 C485.5 20.48 482.9 22.22 480.5 25 C478.1 27.78 475.88 33.43 473.6 37.3 C471.32 41.17 469.07 45.52 466.8 48.2 C464.53 50.88 462.72 52.08 460 53.4 C457.28 54.72 454.43 55.27 450.5 56.1 C446.57 56.93 442.52 57.78 436.4 58.4 C430.28 59.02 419.87 59.52 413.8 59.8 C407.73 60.08 404.32 59.85 400 60.1 C395.68 60.35 391.43 60.67 387.9 61.3 C384.37 61.93 381.63 62.37 378.8 63.9 C375.97 65.43 373.52 67.67 370.9 70.5 C368.28 73.33 365.5 77.42 363.1 80.9 C360.7 84.38 358.13 88.58 356.5 91.4 C354.87 94.22 354.3 95.7 353.3 97.8 C352.3 99.9 351.38 101.97 350.5 104 C349.62 106.03 348.83 108 348 110 C347.17 112 346.3 114 345.5 116 C344.7 118 343.95 120 343.2 122 C342.45 124 341.7 126.02 341 128 C340.3 129.98 339.67 131.9 339 133.9 C338.33 135.9 337.6 138 337 140 C336.4 142 335.83 143.98 335.4 145.9 C334.97 147.82 334.72 149.58 334.4 151.5 C334.08 153.42 333.28 156.78 333.5 157.4 C333.72 158.02 333.92 157.68 335.7 155.2 C337.48 152.72 341.62 146.5 344.2 142.5 C346.78 138.5 349.15 134.95 351.2 131.2 C353.25 127.45 354.73 123.62 356.5 120 C358.27 116.38 360.08 112.83 361.8 109.5 C363.52 106.17 365.15 103.03 366.8 100 C368.45 96.97 370.07 94.38 371.7 91.3 C373.33 88.22 374.8 84.77 376.6 81.5 C378.4 78.23 380.55 74.48 382.5 71.7 C384.45 68.92 386.22 66.58 388.3 64.8 C390.38 63.02 393.05 61.78 395 61 C396.95 60.22 397.5 60.33 400 60.1 C402.5 59.87 403.93 59.73 410 59.6 C416.07 59.47 427.3 59.73 436.4 59.3 C445.5 58.87 456.12 58.05 464.6 57 C473.08 55.95 481.23 54.02 487.3 53 C493.37 51.98 496.45 51.58 501 50.9 C505.55 50.22 509.35 49.67 514.6 48.9 C519.85 48.13 529.52 46.73 532.5 46.3" fill="none" stroke="#a81c1c" stroke-width="1.35" stroke-linejoin="round" stroke-linecap="round"/>
</g>
<rect x="332.9" y="11" width="199.6" height="172.5" fill="none" stroke="#4a4a4a" stroke-width="1.5"/>
<line x1="332.9" y1="183.5" x2="332.9" y2="186.7" stroke="#4a4a4a" stroke-width="1.1"/>
<line x1="342.88" y1="183.5" x2="342.88" y2="185.3" stroke="#4a4a4a" stroke-width="1.1"/>
<line x1="352.86" y1="183.5" x2="352.86" y2="186.7" stroke="#4a4a4a" stroke-width="1.1"/>
<line x1="362.84" y1="183.5" x2="362.84" y2="185.3" stroke="#4a4a4a" stroke-width="1.1"/>
<line x1="372.82" y1="183.5" x2="372.82" y2="186.7" stroke="#4a4a4a" stroke-width="1.1"/>
<line x1="382.8" y1="183.5" x2="382.8" y2="185.3" stroke="#4a4a4a" stroke-width="1.1"/>
<line x1="392.78" y1="183.5" x2="392.78" y2="186.7" stroke="#4a4a4a" stroke-width="1.1"/>
<line x1="402.76" y1="183.5" x2="402.76" y2="185.3" stroke="#4a4a4a" stroke-width="1.1"/>
<line x1="412.74" y1="183.5" x2="412.74" y2="186.7" stroke="#4a4a4a" stroke-width="1.1"/>
<line x1="422.72" y1="183.5" x2="422.72" y2="185.3" stroke="#4a4a4a" stroke-width="1.1"/>
<line x1="432.7" y1="183.5" x2="432.7" y2="186.7" stroke="#4a4a4a" stroke-width="1.1"/>
<line x1="442.68" y1="183.5" x2="442.68" y2="185.3" stroke="#4a4a4a" stroke-width="1.1"/>
<line x1="452.66" y1="183.5" x2="452.66" y2="186.7" stroke="#4a4a4a" stroke-width="1.1"/>
<line x1="462.64" y1="183.5" x2="462.64" y2="185.3" stroke="#4a4a4a" stroke-width="1.1"/>
<line x1="472.62" y1="183.5" x2="472.62" y2="186.7" stroke="#4a4a4a" stroke-width="1.1"/>
<line x1="482.6" y1="183.5" x2="482.6" y2="185.3" stroke="#4a4a4a" stroke-width="1.1"/>
<line x1="492.58" y1="183.5" x2="492.58" y2="186.7" stroke="#4a4a4a" stroke-width="1.1"/>
<line x1="502.56" y1="183.5" x2="502.56" y2="185.3" stroke="#4a4a4a" stroke-width="1.1"/>
<line x1="512.54" y1="183.5" x2="512.54" y2="186.7" stroke="#4a4a4a" stroke-width="1.1"/>
<line x1="522.52" y1="183.5" x2="522.52" y2="185.3" stroke="#4a4a4a" stroke-width="1.1"/>
<line x1="532.5" y1="183.5" x2="532.5" y2="186.7" stroke="#4a4a4a" stroke-width="1.1"/>
<text transform="translate(332.9 196.5) scale(1.12 1)" font-size="9" text-anchor="middle" font-weight="normal" fill="#1c1c1c"  stroke="#1c1c1c" stroke-width="0.12">-1.0</text>
<text transform="translate(352.86 196.5) scale(1.12 1)" font-size="9" text-anchor="middle" font-weight="normal" fill="#1c1c1c"  stroke="#1c1c1c" stroke-width="0.12">-0.8</text>
<text transform="translate(372.82 196.5) scale(1.12 1)" font-size="9" text-anchor="middle" font-weight="normal" fill="#1c1c1c"  stroke="#1c1c1c" stroke-width="0.12">-0.6</text>
<text transform="translate(392.78 196.5) scale(1.12 1)" font-size="9" text-anchor="middle" font-weight="normal" fill="#1c1c1c"  stroke="#1c1c1c" stroke-width="0.12">-0.4</text>
<text transform="translate(412.74 196.5) scale(1.12 1)" font-size="9" text-anchor="middle" font-weight="normal" fill="#1c1c1c"  stroke="#1c1c1c" stroke-width="0.12">-0.2</text>
<text transform="translate(432.7 196.5) scale(1.12 1)" font-size="9" text-anchor="middle" font-weight="normal" fill="#1c1c1c"  stroke="#1c1c1c" stroke-width="0.12">0.0</text>
<text transform="translate(452.66 196.5) scale(1.12 1)" font-size="9" text-anchor="middle" font-weight="normal" fill="#1c1c1c"  stroke="#1c1c1c" stroke-width="0.12">0.2</text>
<text transform="translate(472.62 196.5) scale(1.12 1)" font-size="9" text-anchor="middle" font-weight="normal" fill="#1c1c1c"  stroke="#1c1c1c" stroke-width="0.12">0.4</text>
<text transform="translate(492.58 196.5) scale(1.12 1)" font-size="9" text-anchor="middle" font-weight="normal" fill="#1c1c1c"  stroke="#1c1c1c" stroke-width="0.12">0.6</text>
<text transform="translate(512.54 196.5) scale(1.12 1)" font-size="9" text-anchor="middle" font-weight="normal" fill="#1c1c1c"  stroke="#1c1c1c" stroke-width="0.12">0.8</text>
<text transform="translate(532.5 196.5) scale(1.12 1)" font-size="9" text-anchor="middle" font-weight="normal" fill="#1c1c1c"  stroke="#1c1c1c" stroke-width="0.12">1.0</text>
<line x1="329.7" y1="183.5" x2="332.9" y2="183.5" stroke="#4a4a4a" stroke-width="1.1"/>
<line x1="331.1" y1="171.18" x2="332.9" y2="171.18" stroke="#4a4a4a" stroke-width="1.1"/>
<line x1="329.7" y1="158.86" x2="332.9" y2="158.86" stroke="#4a4a4a" stroke-width="1.1"/>
<line x1="331.1" y1="146.54" x2="332.9" y2="146.54" stroke="#4a4a4a" stroke-width="1.1"/>
<line x1="329.7" y1="134.22" x2="332.9" y2="134.22" stroke="#4a4a4a" stroke-width="1.1"/>
<line x1="331.1" y1="121.9" x2="332.9" y2="121.9" stroke="#4a4a4a" stroke-width="1.1"/>
<line x1="329.7" y1="109.58" x2="332.9" y2="109.58" stroke="#4a4a4a" stroke-width="1.1"/>
<line x1="331.1" y1="97.26" x2="332.9" y2="97.26" stroke="#4a4a4a" stroke-width="1.1"/>
<line x1="329.7" y1="84.94" x2="332.9" y2="84.94" stroke="#4a4a4a" stroke-width="1.1"/>
<line x1="331.1" y1="72.62" x2="332.9" y2="72.62" stroke="#4a4a4a" stroke-width="1.1"/>
<line x1="329.7" y1="60.3" x2="332.9" y2="60.3" stroke="#4a4a4a" stroke-width="1.1"/>
<line x1="331.1" y1="47.98" x2="332.9" y2="47.98" stroke="#4a4a4a" stroke-width="1.1"/>
<line x1="329.7" y1="35.66" x2="332.9" y2="35.66" stroke="#4a4a4a" stroke-width="1.1"/>
<line x1="331.1" y1="23.34" x2="332.9" y2="23.34" stroke="#4a4a4a" stroke-width="1.1"/>
<line x1="329.7" y1="11.02" x2="332.9" y2="11.02" stroke="#4a4a4a" stroke-width="1.1"/>
<text x="323.9" y="14.22" font-size="8.8" text-anchor="end" font-weight="normal" fill="#1c1c1c"  stroke="#1c1c1c" stroke-width="0.12">8.0x10</text>
<text x="324.1" y="11.42" font-size="5.98" text-anchor="start" font-weight="normal" fill="#1c1c1c"  stroke="#1c1c1c" stroke-width="0">3</text>
<text x="323.9" y="38.86" font-size="8.8" text-anchor="end" font-weight="normal" fill="#1c1c1c"  stroke="#1c1c1c" stroke-width="0.12">4.0x10</text>
<text x="324.1" y="36.06" font-size="5.98" text-anchor="start" font-weight="normal" fill="#1c1c1c"  stroke="#1c1c1c" stroke-width="0">3</text>
<text x="327.5" y="62.7" font-size="8.8" text-anchor="end" font-weight="normal" fill="#1c1c1c"  stroke="#1c1c1c" stroke-width="0.12">0.0</text>
<text x="323.9" y="88.14" font-size="8.8" text-anchor="end" font-weight="normal" fill="#1c1c1c"  stroke="#1c1c1c" stroke-width="0.12">-4.0x10</text>
<text x="324.1" y="85.34" font-size="5.98" text-anchor="start" font-weight="normal" fill="#1c1c1c"  stroke="#1c1c1c" stroke-width="0">3</text>
<text x="323.9" y="112.78" font-size="8.8" text-anchor="end" font-weight="normal" fill="#1c1c1c"  stroke="#1c1c1c" stroke-width="0.12">-8.0x10</text>
<text x="324.1" y="109.98" font-size="5.98" text-anchor="start" font-weight="normal" fill="#1c1c1c"  stroke="#1c1c1c" stroke-width="0">3</text>
<text x="323.9" y="137.42" font-size="8.8" text-anchor="end" font-weight="normal" fill="#1c1c1c"  stroke="#1c1c1c" stroke-width="0.12">-1.2x10</text>
<text x="324.1" y="134.62" font-size="5.98" text-anchor="start" font-weight="normal" fill="#1c1c1c"  stroke="#1c1c1c" stroke-width="0">4</text>
<text x="323.9" y="162.06" font-size="8.8" text-anchor="end" font-weight="normal" fill="#1c1c1c"  stroke="#1c1c1c" stroke-width="0.12">-1.6x10</text>
<text x="324.1" y="159.26" font-size="5.98" text-anchor="start" font-weight="normal" fill="#1c1c1c"  stroke="#1c1c1c" stroke-width="0">4</text>
<text x="323.9" y="186.7" font-size="8.8" text-anchor="end" font-weight="normal" fill="#1c1c1c"  stroke="#1c1c1c" stroke-width="0.12">-2.0x10</text>
<text x="324.1" y="183.9" font-size="5.98" text-anchor="start" font-weight="normal" fill="#1c1c1c"  stroke="#1c1c1c" stroke-width="0">4</text>
<text x="432.8" y="215.2" font-size="11.1" text-anchor="middle" font-weight="normal" fill="#1c1c1c"  stroke="#1c1c1c" stroke-width="0.12">Potential (V) vs SCE</text>
<text transform="translate(289.4,90.5) rotate(-90)" font-size="11.8" text-anchor="middle" fill="#1c1c1c" stroke="#1c1c1c" stroke-width="0.12">Current density (μA cm<tspan dy="-4.2" font-size="7.7">-2</tspan><tspan dy="4.2">)</tspan></text>
<text x="279" y="15.7" font-size="11.3" text-anchor="start" font-weight="bold" fill="#1c1c1c"  stroke="#1c1c1c" stroke-width="0.12">(c)</text>
<text x="338.3" y="22.6" font-size="8.75" text-anchor="start" font-weight="bold" fill="#1c1c1c"  stroke="#1c1c1c" stroke-width="0.12">ZnO-LIG5</text>
<rect x="477.4" y="102.2" width="62.2" height="74.4" fill="#222" />
<rect x="476.1" y="100.9" width="62.2" height="74.4" fill="#fff" stroke="#333" stroke-width="0.8"/>
<line x1="482.5" y1="108.7" x2="500.2" y2="108.7" stroke="#8a18f0" stroke-width="1.25"/>
<text x="502.7" y="111.6" font-size="8.25" text-anchor="start" font-weight="normal" fill="#1c1c1c"  stroke="#1c1c1c" stroke-width="0.12">0 mM</text>
<line x1="482.5" y1="118.97" x2="500.2" y2="118.97" stroke="#1a9cf2" stroke-width="1.25"/>
<text x="502.7" y="121.87" font-size="8.25" text-anchor="start" font-weight="normal" fill="#1c1c1c"  stroke="#1c1c1c" stroke-width="0.12">0.8 mM</text>
<line x1="482.5" y1="129.23" x2="500.2" y2="129.23" stroke="#4cf01c" stroke-width="1.25"/>
<text x="502.7" y="132.13" font-size="8.25" text-anchor="start" font-weight="normal" fill="#1c1c1c"  stroke="#1c1c1c" stroke-width="0.12">1.5 mM</text>
<line x1="482.5" y1="139.5" x2="500.2" y2="139.5" stroke="#fff000" stroke-width="1.25"/>
<text x="502.7" y="142.4" font-size="8.25" text-anchor="start" font-weight="normal" fill="#1c1c1c"  stroke="#1c1c1c" stroke-width="0.12">3.8 mM</text>
<line x1="482.5" y1="149.77" x2="500.2" y2="149.77" stroke="#ff3c1c" stroke-width="1.25"/>
<text x="502.7" y="152.67" font-size="8.25" text-anchor="start" font-weight="normal" fill="#1c1c1c"  stroke="#1c1c1c" stroke-width="0.12">7.4 mM</text>
<line x1="482.5" y1="160.03" x2="500.2" y2="160.03" stroke="#ff1a1a" stroke-width="1.25"/>
<text x="502.7" y="162.93" font-size="8.25" text-anchor="start" font-weight="normal" fill="#1c1c1c"  stroke="#1c1c1c" stroke-width="0.12">14.6 mM</text>
<line x1="482.5" y1="170.3" x2="500.2" y2="170.3" stroke="#a81c1c" stroke-width="1.25"/>
<text x="502.7" y="173.2" font-size="8.25" text-anchor="start" font-weight="normal" fill="#1c1c1c"  stroke="#1c1c1c" stroke-width="0.12">28.3 mM</text>
<rect x="186.7" y="256" width="217.3" height="163.9" fill="none" stroke="#4a4a4a" stroke-width="1.5"/>
<line x1="190.1" y1="419.9" x2="190.1" y2="423.1" stroke="#4a4a4a" stroke-width="1.1"/>
<text x="190.1" y="433.4" font-size="9.3" text-anchor="middle" font-weight="normal" fill="#1c1c1c"  stroke="#1c1c1c" stroke-width="0.12">0</text>
<line x1="207.91" y1="419.9" x2="207.91" y2="421.7" stroke="#4a4a4a" stroke-width="1.1"/>
<line x1="225.72" y1="419.9" x2="225.72" y2="423.1" stroke="#4a4a4a" stroke-width="1.1"/>
<text x="225.72" y="433.4" font-size="9.3" text-anchor="middle" font-weight="normal" fill="#1c1c1c"  stroke="#1c1c1c" stroke-width="0.12">5</text>
<line x1="243.54" y1="419.9" x2="243.54" y2="421.7" stroke="#4a4a4a" stroke-width="1.1"/>
<line x1="261.35" y1="419.9" x2="261.35" y2="423.1" stroke="#4a4a4a" stroke-width="1.1"/>
<text x="261.35" y="433.4" font-size="9.3" text-anchor="middle" font-weight="normal" fill="#1c1c1c"  stroke="#1c1c1c" stroke-width="0.12">10</text>
<line x1="279.16" y1="419.9" x2="279.16" y2="421.7" stroke="#4a4a4a" stroke-width="1.1"/>
<line x1="296.98" y1="419.9" x2="296.98" y2="423.1" stroke="#4a4a4a" stroke-width="1.1"/>
<text x="296.98" y="433.4" font-size="9.3" text-anchor="middle" font-weight="normal" fill="#1c1c1c"  stroke="#1c1c1c" stroke-width="0.12">15</text>
<line x1="314.79" y1="419.9" x2="314.79" y2="421.7" stroke="#4a4a4a" stroke-width="1.1"/>
<line x1="332.6" y1="419.9" x2="332.6" y2="423.1" stroke="#4a4a4a" stroke-width="1.1"/>
<text x="332.6" y="433.4" font-size="9.3" text-anchor="middle" font-weight="normal" fill="#1c1c1c"  stroke="#1c1c1c" stroke-width="0.12">20</text>
<line x1="350.41" y1="419.9" x2="350.41" y2="421.7" stroke="#4a4a4a" stroke-width="1.1"/>
<line x1="368.23" y1="419.9" x2="368.23" y2="423.1" stroke="#4a4a4a" stroke-width="1.1"/>
<text x="368.23" y="433.4" font-size="9.3" text-anchor="middle" font-weight="normal" fill="#1c1c1c"  stroke="#1c1c1c" stroke-width="0.12">25</text>
<line x1="386.04" y1="419.9" x2="386.04" y2="421.7" stroke="#4a4a4a" stroke-width="1.1"/>
<line x1="403.85" y1="419.9" x2="403.85" y2="423.1" stroke="#4a4a4a" stroke-width="1.1"/>
<text x="403.85" y="433.4" font-size="9.3" text-anchor="middle" font-weight="normal" fill="#1c1c1c"  stroke="#1c1c1c" stroke-width="0.12">30</text>
<line x1="183.5" y1="410.6" x2="186.7" y2="410.6" stroke="#4a4a4a" stroke-width="1.1"/>
<line x1="184.9" y1="391.3" x2="186.7" y2="391.3" stroke="#4a4a4a" stroke-width="1.1"/>
<line x1="183.5" y1="372" x2="186.7" y2="372" stroke="#4a4a4a" stroke-width="1.1"/>
<line x1="184.9" y1="352.7" x2="186.7" y2="352.7" stroke="#4a4a4a" stroke-width="1.1"/>
<line x1="183.5" y1="333.4" x2="186.7" y2="333.4" stroke="#4a4a4a" stroke-width="1.1"/>
<line x1="184.9" y1="314.1" x2="186.7" y2="314.1" stroke="#4a4a4a" stroke-width="1.1"/>
<line x1="183.5" y1="294.8" x2="186.7" y2="294.8" stroke="#4a4a4a" stroke-width="1.1"/>
<line x1="184.9" y1="275.5" x2="186.7" y2="275.5" stroke="#4a4a4a" stroke-width="1.1"/>
<line x1="183.5" y1="256.2" x2="186.7" y2="256.2" stroke="#4a4a4a" stroke-width="1.1"/>
<text x="181.3" y="413.8" font-size="9.6" text-anchor="end" font-weight="normal" fill="#1c1c1c"  stroke="#1c1c1c" stroke-width="0.12">0.0</text>
<text x="177.7" y="375.5" font-size="9.5" text-anchor="end" font-weight="normal" fill="#1c1c1c"  stroke="#1c1c1c" stroke-width="0.12">2.0x10</text>
<text x="177.7" y="371.4" font-size="6.1" text-anchor="start" font-weight="normal" fill="#1c1c1c"  stroke="#1c1c1c" stroke-width="0">3</text>
<text x="177.7" y="336.9" font-size="9.5" text-anchor="end" font-weight="normal" fill="#1c1c1c"  stroke="#1c1c1c" stroke-width="0.12">4.0x10</text>
<text x="177.7" y="332.8" font-size="6.1" text-anchor="start" font-weight="normal" fill="#1c1c1c"  stroke="#1c1c1c" stroke-width="0">3</text>
<text x="177.7" y="298.3" font-size="9.5" text-anchor="end" font-weight="normal" fill="#1c1c1c"  stroke="#1c1c1c" stroke-width="0.12">6.0x10</text>
<text x="177.7" y="294.2" font-size="6.1" text-anchor="start" font-weight="normal" fill="#1c1c1c"  stroke="#1c1c1c" stroke-width="0">3</text>
<text x="177.7" y="259.7" font-size="9.5" text-anchor="end" font-weight="normal" fill="#1c1c1c"  stroke="#1c1c1c" stroke-width="0.12">8.0x10</text>
<text x="177.7" y="255.6" font-size="6.1" text-anchor="start" font-weight="normal" fill="#1c1c1c"  stroke="#1c1c1c" stroke-width="0">3</text>
<line x1="190.1" y1="412.61" x2="294.12" y2="325.6" stroke="#2cc6d0" stroke-width="1.1"/>
<line x1="190.1" y1="411.94" x2="294.12" y2="333.2" stroke="#f27a1a" stroke-width="1.1"/>
<line x1="195.8" y1="406.93" x2="195.8" y2="408.48" stroke="#2cc6d0" stroke-width="1"/>
<line x1="193.2" y1="406.93" x2="198.4" y2="406.93" stroke="#2cc6d0" stroke-width="1"/>
<line x1="193.2" y1="408.48" x2="198.4" y2="408.48" stroke="#2cc6d0" stroke-width="1"/>
<line x1="200.79" y1="401.53" x2="200.79" y2="405" stroke="#2cc6d0" stroke-width="1"/>
<line x1="198.19" y1="401.53" x2="203.39" y2="401.53" stroke="#2cc6d0" stroke-width="1"/>
<line x1="198.19" y1="405" x2="203.39" y2="405" stroke="#2cc6d0" stroke-width="1"/>
<line x1="217.17" y1="390.34" x2="217.17" y2="396.12" stroke="#2cc6d0" stroke-width="1"/>
<line x1="214.57" y1="390.34" x2="219.77" y2="390.34" stroke="#2cc6d0" stroke-width="1"/>
<line x1="214.57" y1="396.12" x2="219.77" y2="396.12" stroke="#2cc6d0" stroke-width="1"/>
<line x1="242.82" y1="366.79" x2="242.82" y2="371.42" stroke="#2cc6d0" stroke-width="1"/>
<line x1="240.22" y1="366.79" x2="245.42" y2="366.79" stroke="#2cc6d0" stroke-width="1"/>
<line x1="240.22" y1="371.42" x2="245.42" y2="371.42" stroke="#2cc6d0" stroke-width="1"/>
<line x1="294.12" y1="316.42" x2="294.12" y2="350.38" stroke="#2cc6d0" stroke-width="1"/>
<line x1="291.52" y1="316.42" x2="296.73" y2="316.42" stroke="#2cc6d0" stroke-width="1"/>
<line x1="291.52" y1="350.38" x2="296.73" y2="350.38" stroke="#2cc6d0" stroke-width="1"/>
<line x1="391.74" y1="271.45" x2="391.74" y2="319.7" stroke="#2cc6d0" stroke-width="1"/>
<line x1="389.14" y1="271.45" x2="394.34" y2="271.45" stroke="#2cc6d0" stroke-width="1"/>
<line x1="389.14" y1="319.7" x2="394.34" y2="319.7" stroke="#2cc6d0" stroke-width="1"/>
<line x1="195.8" y1="403.46" x2="195.8" y2="405.78" stroke="#f27a1a" stroke-width="1"/>
<line x1="193.2" y1="403.46" x2="198.4" y2="403.46" stroke="#f27a1a" stroke-width="1"/>
<line x1="193.2" y1="405.78" x2="198.4" y2="405.78" stroke="#f27a1a" stroke-width="1"/>
<line x1="200.79" y1="398.83" x2="200.79" y2="403.46" stroke="#f27a1a" stroke-width="1"/>
<line x1="198.19" y1="398.83" x2="203.39" y2="398.83" stroke="#f27a1a" stroke-width="1"/>
<line x1="198.19" y1="403.46" x2="203.39" y2="403.46" stroke="#f27a1a" stroke-width="1"/>
<line x1="217.17" y1="386.48" x2="217.17" y2="395.74" stroke="#f27a1a" stroke-width="1"/>
<line x1="214.57" y1="386.48" x2="219.77" y2="386.48" stroke="#f27a1a" stroke-width="1"/>
<line x1="214.57" y1="395.74" x2="219.77" y2="395.74" stroke="#f27a1a" stroke-width="1"/>
<line x1="242.82" y1="365.63" x2="242.82" y2="374.51" stroke="#f27a1a" stroke-width="1"/>
<line x1="240.22" y1="365.63" x2="245.42" y2="365.63" stroke="#f27a1a" stroke-width="1"/>
<line x1="240.22" y1="374.51" x2="245.42" y2="374.51" stroke="#f27a1a" stroke-width="1"/>
<line x1="294.12" y1="328" x2="294.12" y2="334.94" stroke="#f27a1a" stroke-width="1"/>
<line x1="291.52" y1="328" x2="296.73" y2="328" stroke="#f27a1a" stroke-width="1"/>
<line x1="291.52" y1="334.94" x2="296.73" y2="334.94" stroke="#f27a1a" stroke-width="1"/>
<line x1="391.74" y1="283.8" x2="391.74" y2="293.06" stroke="#f27a1a" stroke-width="1"/>
<line x1="389.14" y1="283.8" x2="394.34" y2="283.8" stroke="#f27a1a" stroke-width="1"/>
<line x1="389.14" y1="293.06" x2="394.34" y2="293.06" stroke="#f27a1a" stroke-width="1"/>
<circle cx="190.1" cy="410.6" r="2.4" fill="#2cc6d0"/>
<circle cx="195.8" cy="407.71" r="2.4" fill="#2cc6d0"/>
<circle cx="200.79" cy="403.27" r="2.4" fill="#2cc6d0"/>
<circle cx="217.17" cy="393.23" r="2.4" fill="#2cc6d0"/>
<circle cx="242.82" cy="369.11" r="2.4" fill="#2cc6d0"/>
<circle cx="294.12" cy="333.4" r="2.4" fill="#2cc6d0"/>
<circle cx="391.74" cy="295.57" r="2.4" fill="#2cc6d0"/>
<path d="M190.1 407.6 L193.1 412.8 L187.1 412.8 Z" fill="#f27a1a"/>
<path d="M195.8 401.62 L198.8 406.82 L192.8 406.82 Z" fill="#f27a1a"/>
<path d="M200.79 398.14 L203.79 403.34 L197.79 403.34 Z" fill="#f27a1a"/>
<path d="M217.17 388.11 L220.17 393.31 L214.17 393.31 Z" fill="#f27a1a"/>
<path d="M242.82 367.07 L245.82 372.27 L239.82 372.27 Z" fill="#f27a1a"/>
<path d="M294.12 328.47 L297.12 333.67 L291.12 333.67 Z" fill="#f27a1a"/>
<path d="M391.74 285.43 L394.74 290.63 L388.74 290.63 Z" fill="#f27a1a"/>
<text x="191.4" y="264.8" font-size="8.5" fill="#2cc6d0"><tspan font-style="italic">I</tspan> =(308.8 ± 7.7) × C<tspan dy="1.8" font-size="5.9">H2O2</tspan><tspan dy="-1.8"> + ( -104.2 ± 10.3)</tspan></text>
<text x="191.4" y="276.1" font-size="8.5" fill="#2cc6d0">R<tspan dy="-3.2" font-size="5.9">2</tspan><tspan dy="3.2">= 0.9975</tspan></text>
<text x="191.4" y="291.7" font-size="8.5" fill="#f0863a"><tspan font-style="italic">I</tspan> =(276.8 ± 1.9) × C<tspan dy="1.8" font-size="5.9">H2O2</tspan><tspan dy="-1.8"> + ( -69.2 ± 16.3)</tspan></text>
<text x="191.4" y="306.9" font-size="8.5" fill="#f0863a">R<tspan dy="-3.2" font-size="5.9">2</tspan><tspan dy="3.2">= 0.9998</tspan></text>
<rect x="335.8" y="393.8" width="61" height="22.2" fill="#222"/>
<rect x="334.4" y="392.3" width="61" height="22.2" fill="#fff" stroke="#333" stroke-width="0.8"/>
<circle cx="344.0" cy="399.0" r="2.2" fill="#2cc6d0"/>
<path d="M344.1 405.8 L347.1 411 L341.1 411 Z" fill="#f27a1a"/>
<text x="353.6" y="402" font-size="8.5" text-anchor="start" font-weight="normal" fill="#1c1c1c"  stroke="#1c1c1c" stroke-width="0.12">ZnO</text>
<text x="353.6" y="412.3" font-size="8.5" text-anchor="start" font-weight="normal" fill="#1c1c1c"  stroke="#1c1c1c" stroke-width="0.12">ZnO-LIG5</text>
<text x="229.2" y="446.8" font-size="11.3" textLength="132.6" lengthAdjust="spacing" fill="#1c1c1c" stroke="#1c1c1c" stroke-width="0.12">H<tspan dy="2.6" font-size="7.4">2</tspan><tspan dy="-2.6">O</tspan><tspan dy="2.6" font-size="7.4">2</tspan><tspan dy="-2.6"> concentration (mM)</tspan></text>
<text transform="translate(143.6,337.9) rotate(-90)" font-size="11.8" text-anchor="middle" fill="#1c1c1c" stroke="#1c1c1c" stroke-width="0.12">Current density (μA cm<tspan dy="-4.2" font-size="7.7">-2</tspan><tspan dy="4.2">)</tspan></text>
<text x="131.5" y="254.2" font-size="11.6" text-anchor="start" font-weight="bold" fill="#1c1c1c"  stroke="#1c1c1c" stroke-width="0.12">(c)</text>
</svg>
</body></html>
